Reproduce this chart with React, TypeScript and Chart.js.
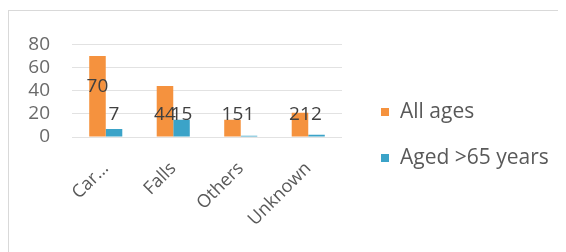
import React, { useEffect, useRef } from "react";
import { Chart, registerables } from "chart.js";

Chart.register(...registerables);

const categories = ["Car...", "Falls", "Others", "Unknown"];
const allAges = [70, 44, 15, 21];
const aged65 = [7, 15, 1, 2];
const seriesNames = ["All ages", "Aged >65 years"];
const yTickValues = [0, 20, 40, 60, 80];

const ORANGE = "#F5923E";
const BLUE = "#3BA3C8";
const FONT = "'Open Sans', 'DejaVu Sans', sans-serif";

const dataLabelPlugin = {
  id: "dataLabelsCustom",
  afterDatasetsDraw(chart: any) {
    const ctx = chart.ctx;
    const base = chart.scales.y.getPixelForValue(0);
    ctx.save();
    ctx.font = `19px ${FONT}`;
    ctx.fillStyle = "#404040";
    ctx.textAlign = "center";
    ctx.textBaseline = "middle";
    chart.data.datasets.forEach((ds: any, di: number) => {
      const meta = chart.getDatasetMeta(di);
      meta.data.forEach((bar: any, i: number) => {
        const y = Math.min(bar.y + 31, base - 22);
        ctx.fillText(String(ds.data[i]), bar.x, y);
      });
    });
    ctx.restore();
  },
};

const sideLegendPlugin = {
  id: "sideLegend",
  afterDraw(chart: any) {
    const { ctx, chartArea } = chart;
    const x = chartArea.right + 39;
    const cy = chart.height / 2 + 3;
    const gap = 46;
    const n = chart.data.datasets.length;
    ctx.save();
    ctx.font = `21px ${FONT}`;
    ctx.textBaseline = "middle";
    ctx.textAlign = "left";
    chart.data.datasets.forEach((ds: any, i: number) => {
      const y = cy + (i - (n - 1) / 2) * gap;
      ctx.fillStyle = ds.backgroundColor;
      ctx.fillRect(x, y - 4, 8, 8);
      ctx.fillStyle = "#595959";
      ctx.fillText(ds.label, x + 19, y);
    });
    ctx.restore();
  },
};

export default function App() {
  const ref = useRef<HTMLCanvasElement | null>(null);

  useEffect(() => {
    document.body.style.overflow = "hidden";
    if (!ref.current) return;
    const chart = new Chart(ref.current, {
      type: "bar",
      data: {
        labels: categories,
        datasets: [
          {
            label: seriesNames[0],
            data: allAges,
            backgroundColor: ORANGE,
            categoryPercentage: 0.49,
            barPercentage: 1,
          },
          {
            label: seriesNames[1],
            data: aged65,
            backgroundColor: BLUE,
            categoryPercentage: 0.49,
            barPercentage: 1,
          },
        ],
      },
      options: {
        responsive: false,
        animation: false,
        layout: { padding: { left: 18, top: 30, right: 224, bottom: 0 } },
        plugins: {
          legend: { display: false },
          tooltip: { enabled: false },
        },
        scales: {
          x: {
            grid: { display: false },
            border: { display: false },
            ticks: {
              font: { family: FONT, size: 18 },
              color: "#595959",
              minRotation: 45,
              maxRotation: 45,
              padding: 13,
              autoSkip: false,
            },
            afterFit: (s: any) => {
              s.height = 116;
            },
          },
          y: {
            min: 0,
            max: 80,
            ticks: {
              stepSize: 20,
              padding: 22,
              autoSkip: false,
              font: { family: FONT, size: 19 },
              color: "#6a6a6a",
            },
            afterBuildTicks: (s: any) => {
              s.ticks = yTickValues.map((v) => ({ value: v }));
            },
            grid: { color: "#e2e2e2", drawTicks: false },
            border: { display: false },
            afterFit: (s: any) => {
              s.width = 45;
            },
          },
        },
      },
      plugins: [dataLabelPlugin, sideLegendPlugin],
    });
    return () => chart.destroy();
  }, []);

  return (
    <div
      style={{
        marginTop: 2,
        borderTop: "1px solid #d9d9d9",
        borderLeft: "1px solid #d9d9d9",
        width: 557,
        height: 242,
      }}
    >
      <canvas ref={ref} width={557} height={242} style={{ display: "block" }} />
    </div>
  );
}
